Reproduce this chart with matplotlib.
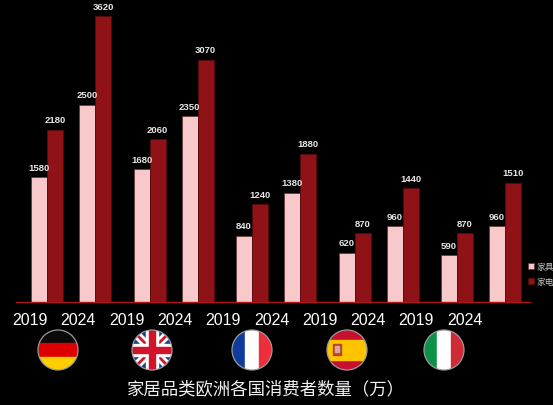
import numpy as np
import matplotlib
matplotlib.use("Agg")
import matplotlib.pyplot as plt
from matplotlib.patches import Circle, Rectangle, Polygon

plt.rcParams['font.family'] = ['Liberation Sans', 'Noto Sans CJK SC', 'DejaVu Sans']

# -------------------------
# Data
# -------------------------
countries = ["德国", "英国", "法国", "西班牙", "意大利"]
years = ["2019", "2024"]
furniture = [1580, 2500, 1680, 2350, 840, 1380, 620, 960, 590, 960]      # 家具
appliance = [2180, 3620, 2060, 3070, 1240, 1880, 870, 1440, 870, 1510]   # 家电
series_names = ["家具", "家电"]
title = "家居品类欧洲各国消费者数量（万）"

PINK = "#F7C9CB"
DARK_RED = "#8E1216"
TXT = "#E6E6E6"

W, H = 553, 406
fig = plt.figure(figsize=(W / 100, H / 100), dpi=100, facecolor="black")

# main axes: in pixel units of the figure
ax = fig.add_axes([16 / W, 103 / H, 514 / W, 293 / H], facecolor="black")

n_c = len(countries)
centers = np.array([31 + 102.5 * i + 48 * j for i in range(n_c) for j in range(len(years))])
bw = 16

b1 = ax.bar(centers - bw / 2, furniture, width=bw, color=PINK, edgecolor="#6b3a3c", linewidth=0.6)
b2 = ax.bar(centers + bw / 2, appliance, width=bw, color=DARK_RED, edgecolor="#5a0a0d", linewidth=0.6)

for bars in (b1, b2):
    for r in bars:
        ax.annotate(f"{int(r.get_height())}", (r.get_x() + r.get_width() / 2, r.get_height()),
                    xytext=(0, 4), textcoords="offset points", ha="center", va="bottom",
                    fontsize=6.8, fontweight="bold", color=TXT)

ax.set_xlim(0, 514)
ax.set_ylim(0, 3710)

# year labels (evenly spaced, like the original)
tick_x = 14 + 48.3 * np.arange(n_c * len(years))
ax.set_xticks(tick_x)
ax.set_xticklabels(years * n_c, fontsize=11.5, color="white")
ax.tick_params(axis="x", length=0, pad=7)
ax.set_yticks([])
for s in ("top", "right", "left"):
    ax.spines[s].set_visible(False)
ax.spines["bottom"].set_color("#B0141C")
ax.spines["bottom"].set_linewidth(1.0)

leg = ax.legend([b1, b2], series_names, loc="center left",
                bbox_to_anchor=(520 / W, 1 - 275 / H), bbox_transform=fig.transFigure,
                frameon=False, fontsize=6.3, labelcolor="#C8C8C8",
                handlelength=0.65, handleheight=0.65, handletextpad=0.35, labelspacing=0.7)

fig.text(266 / W, 1 - 389 / H, title, ha="center", va="center",
         fontsize=12.5, color="#F2F2F2", family=["Noto Sans CJK SC", "DejaVu Sans"])

# -------------------------
# Flags (drawn in pixel coordinates)
# -------------------------
fa = fig.add_axes([0, 0, 1, 1], facecolor="none")
fa.set_xlim(0, W)
fa.set_ylim(H, 0)
fa.axis("off")


def flag(cx, cy, r, kind):
    clip = Circle((cx, cy), r, transform=fa.transData)
    parts = []
    x0, y0, d = cx - r, cy - r, 2 * r
    if kind == "de":
        for k, c in enumerate(["#0a0a0a", "#DD0000", "#FFCE00"]):
            parts.append(Rectangle((x0, y0 + k * d / 3), d, d / 3, color=c))
    elif kind == "fr":
        for k, c in enumerate(["#0F3A9E", "#FFFFFF", "#EE2E3B"]):
            parts.append(Rectangle((x0 + k * d / 3, y0), d / 3, d, color=c))
    elif kind == "it":
        for k, c in enumerate(["#0C9246", "#FFFFFF", "#CE2B37"]):
            parts.append(Rectangle((x0 + k * d / 3, y0), d / 3, d, color=c))
    elif kind == "es":
        parts.append(Rectangle((x0, y0), d, d, color="#C8102E"))
        parts.append(Rectangle((x0, y0 + d / 4), d, d / 2, color="#FFC400"))
        parts.append(Rectangle((cx - r * 0.7, cy - r * 0.3), r * 0.4, r * 0.55, color="#B5452B"))
        parts.append(Rectangle((cx - r * 0.62, cy - r * 0.18), r * 0.22, r * 0.3, color="#D8A8A0"))
    elif kind == "uk":
        parts.append(Rectangle((x0, y0), d, d, color="#1A3E8C"))
        for sgn in (1, -1):
            parts.append(Polygon([(x0, cy - sgn * r), (x0 + d, cy + sgn * r)], closed=False,
                                 fill=False, edgecolor="white", linewidth=6))
            parts.append(Polygon([(x0, cy - sgn * r), (x0 + d, cy + sgn * r)], closed=False,
                                 fill=False, edgecolor="#D2142A", linewidth=2))
        parts.append(Rectangle((x0, cy - r * 0.3), d, r * 0.6, color="white"))
        parts.append(Rectangle((cx - r * 0.3, y0), r * 0.6, d, color="white"))
        parts.append(Rectangle((x0, cy - r * 0.17), d, r * 0.34, color="#D2142A"))
        parts.append(Rectangle((cx - r * 0.17, y0), r * 0.34, d, color="#D2142A"))
    for p in parts:
        fa.add_patch(p)
        p.set_clip_path(clip)
    fa.add_patch(Circle((cx, cy), r, fill=False, edgecolor="#9a9a9a", linewidth=0.9))


flag_kinds = ["de", "uk", "fr", "es", "it"]
flag_x = [58, 152, 252, 347, 444]
for kind, fx in zip(flag_kinds, flag_x):
    flag(fx, 351, 20, kind)

fig.savefig("out.png", dpi=100, facecolor="black")
